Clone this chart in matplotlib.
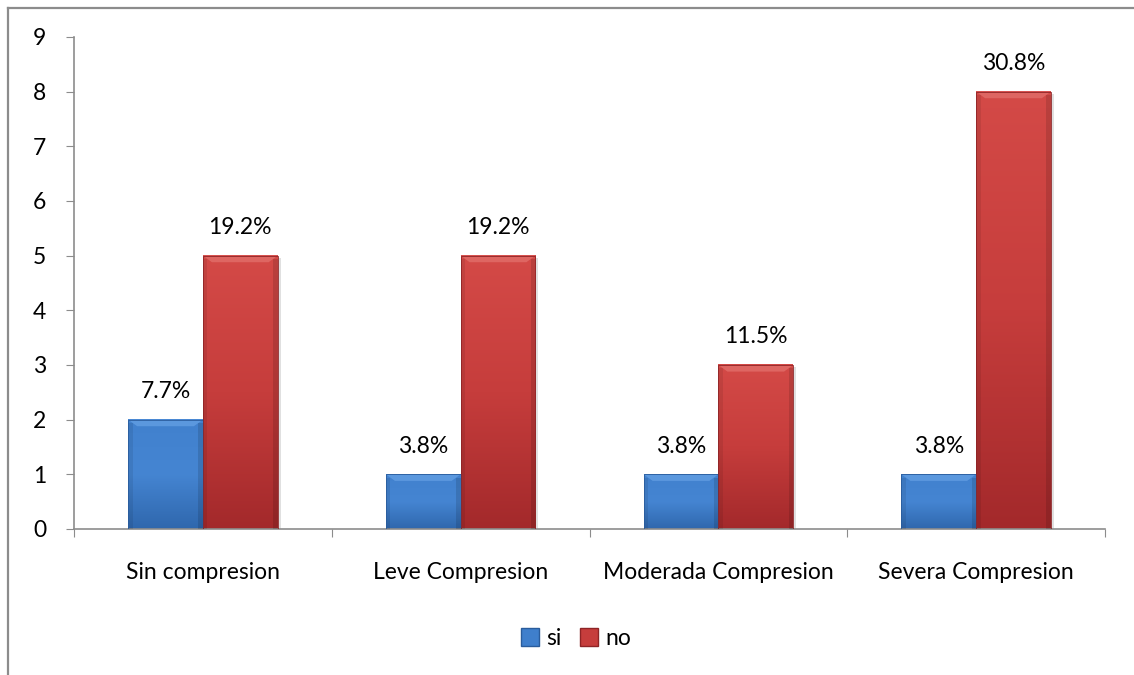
import numpy as np
import matplotlib.pyplot as plt
from matplotlib.patches import Rectangle, Polygon
from matplotlib.lines import Line2D
from matplotlib.colors import LinearSegmentedColormap

plt.rcParams['font.family'] = ['Lato', 'DejaVu Sans']

categories = ['Sin compresion', 'Leve Compresion', 'Moderada Compresion', 'Severa Compresion']
si_values = [2, 1, 1, 1]
no_values = [5, 5, 3, 8]
si_labels = ['7.7%', '3.8%', '3.8%', '3.8%']
no_labels = ['19.2%', '19.2%', '11.5%', '30.8%']

fig = plt.figure(figsize=(11.34, 6.75), dpi=100)
ax = fig.add_axes([0.0653, 0.2163, 0.9091, 0.7289])

# outer chart frame: only the left and top edges show in the crop
fx, fy = 8 / 1134, 1 - 8 / 675
fig.add_artist(Line2D([fx, fx], [0, fy], transform=fig.transFigure,
                      color='#8c8c8c', lw=1.6))
fig.add_artist(Line2D([fx, 1], [fy, fy], transform=fig.transFigure,
                      color='#8c8c8c', lw=1.6))

x = np.arange(len(categories))
w = 0.29

blue_cmap = LinearSegmentedColormap.from_list('b', ['#2f67ad', '#4585d2', '#4181ce'])
red_cmap = LinearSegmentedColormap.from_list('r', ['#a3292b', '#c63d3c', '#d44a47'])


def gradient_bars(xs, vals, cmap, edge, top):
    bars = ax.bar(xs, vals, w, color='none', edgecolor=edge, linewidth=0.6, zorder=4)
    grad = np.linspace(0, 1, 256).reshape(-1, 1)
    bev_x = 0.035
    bev_y = 0.12
    for b in bars:
        x0, y0 = b.get_x(), b.get_y()
        bw, bh = b.get_width(), b.get_height()
        # soft shadow
        ax.add_patch(Rectangle((x0 + 0.012, y0 - 0.04), bw, bh, color='#000000',
                               alpha=0.12, lw=0, zorder=1))
        ax.imshow(grad, cmap=cmap, aspect='auto', origin='lower',
                  extent=(x0, x0 + bw, y0, y0 + bh), zorder=2)
        # light bevel at the top
        yt = y0 + bh
        ax.add_patch(Polygon([(x0, yt), (x0 + bw, yt), (x0 + bw - bev_x, yt - bev_y),
                              (x0 + bev_x, yt - bev_y)], closed=True,
                             color=top, alpha=0.9, lw=0, zorder=3))
        # darker side edges
        ax.add_patch(Rectangle((x0, y0), bev_x * 0.5, bh - bev_y * 0.5, color='black',
                               alpha=0.08, lw=0, zorder=3))
        ax.add_patch(Rectangle((x0 + bw - bev_x * 0.5, y0), bev_x * 0.5, bh - bev_y * 0.5,
                               color='black', alpha=0.12, lw=0, zorder=3))
    return bars


gradient_bars(x - w / 2, si_values, blue_cmap, '#2a5c9c', '#5f9be0')
gradient_bars(x + w / 2, no_values, red_cmap, '#8e2426', '#e06a66')

for i in range(len(categories)):
    ax.annotate(si_labels[i], (x[i] - w / 2, si_values[i]), xytext=(0, 28),
                textcoords='offset pixels', ha='center', va='center', fontsize=16.5)
    ax.annotate(no_labels[i], (x[i] + w / 2, no_values[i]), xytext=(0, 28),
                textcoords='offset pixels', ha='center', va='center', fontsize=16.5)

ax.set_xlim(-0.5, len(categories) - 0.5)
ax.set_ylim(0, 9)
ax.set_yticks(range(10))
ax.set_xticks(np.arange(-0.5, len(categories), 1.0))
ax.set_xticklabels([])
ax.set_xticks(x, minor=True)
ax.set_xticklabels(categories, minor=True, fontsize=16.5)
ax.tick_params(axis='x', which='minor', length=0, pad=24)
ax.tick_params(axis='x', which='major', length=6, color='#8c8c8c', direction='out')
ax.tick_params(axis='y', length=6, color='#8c8c8c', labelsize=16.5, pad=14)

for s in ['top', 'right']:
    ax.spines[s].set_visible(False)
for s in ['left', 'bottom']:
    ax.spines[s].set_color('#8c8c8c')
    ax.spines[s].set_linewidth(1.2)

handles = [Rectangle((0, 0), 1, 1, facecolor='#3f7fcc', edgecolor='#2a5c9c'),
           Rectangle((0, 0), 1, 1, facecolor='#c63d3c', edgecolor='#8e2426')]
fig.legend(handles, ['si', 'no'], loc='center', bbox_to_anchor=(0.508, 0.054),
           ncol=2, frameon=False, fontsize=16.5, handlelength=0.8, handleheight=0.8,
           handletextpad=0.3, columnspacing=0.8)

fig.savefig('out.png', dpi=100)
